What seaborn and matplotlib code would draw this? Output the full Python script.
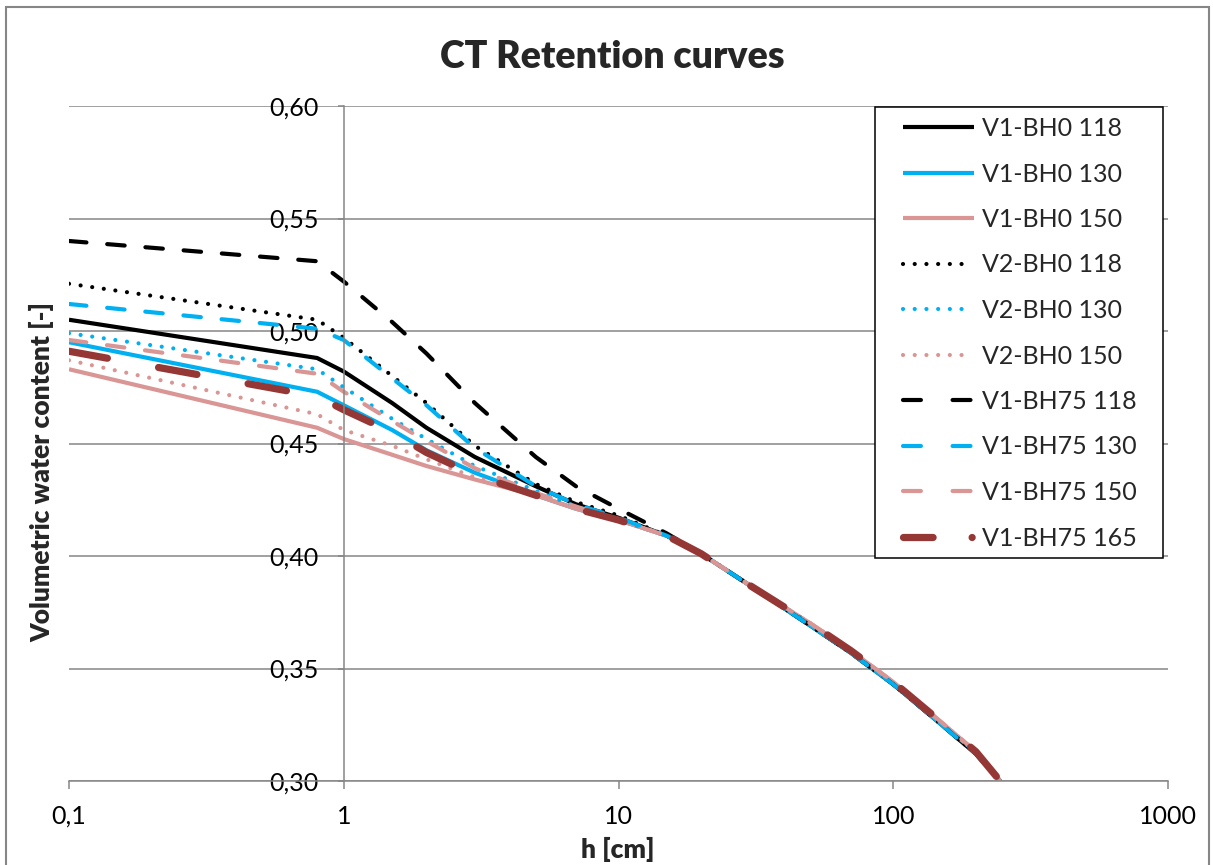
import numpy as np
import pandas as pd
import seaborn as sns
import matplotlib.pyplot as plt
from matplotlib.lines import Line2D
from matplotlib.patches import Rectangle
from matplotlib.ticker import FixedLocator, NullLocator

# suction head [cm] and water contents
h = [0.1, 0.8, 1, 1.5, 2, 3, 5, 7, 10, 15, 20, 30, 50, 70, 100, 150, 200, 245]

v1_bh0_118 = [0.505, 0.488, 0.482, 0.468, 0.457, 0.444, 0.431, 0.423, 0.417,
              0.409, 0.401, 0.387, 0.369, 0.357, 0.343, 0.325, 0.312, 0.300]
v1_bh0_130 = [0.495, 0.473, 0.467, 0.456, 0.447, 0.437, 0.427, 0.421, 0.416,
              0.409, 0.401, 0.387, 0.369, 0.357, 0.343, 0.325, 0.313, 0.300]
v1_bh0_150 = [0.483, 0.457, 0.452, 0.445, 0.440, 0.434, 0.427, 0.421, 0.416,
              0.409, 0.401, 0.387, 0.370, 0.358, 0.344, 0.326, 0.313, 0.300]
v2_bh0_118 = [0.521, 0.505, 0.497, 0.480, 0.468, 0.449, 0.432, 0.424, 0.418,
              0.409, 0.401, 0.387, 0.369, 0.357, 0.343, 0.325, 0.312, 0.300]
v2_bh0_130 = [0.499, 0.483, 0.475, 0.461, 0.452, 0.440, 0.429, 0.422, 0.416,
              0.409, 0.401, 0.387, 0.370, 0.357, 0.343, 0.325, 0.313, 0.300]
v2_bh0_150 = [0.487, 0.463, 0.456, 0.449, 0.443, 0.435, 0.427, 0.421, 0.416,
              0.409, 0.401, 0.387, 0.370, 0.358, 0.344, 0.326, 0.313, 0.300]
v1_bh75_118 = [0.540, 0.531, 0.522, 0.504, 0.490, 0.468, 0.444, 0.431, 0.421,
               0.410, 0.401, 0.387, 0.369, 0.357, 0.343, 0.325, 0.312, 0.300]
v1_bh75_130 = [0.512, 0.501, 0.496, 0.479, 0.467, 0.448, 0.431, 0.423, 0.417,
               0.409, 0.401, 0.387, 0.369, 0.357, 0.343, 0.325, 0.312, 0.300]
v1_bh75_150 = [0.496, 0.481, 0.473, 0.460, 0.451, 0.439, 0.428, 0.422, 0.416,
               0.409, 0.401, 0.387, 0.370, 0.358, 0.344, 0.326, 0.313, 0.300]
v1_bh75_165 = [0.491, 0.471, 0.465, 0.455, 0.446, 0.436, 0.427, 0.421, 0.416,
               0.409, 0.401, 0.387, 0.370, 0.358, 0.344, 0.326, 0.313, 0.300]

names = ["V1-BH0 118", "V1-BH0 130", "V1-BH0 150",
         "V2-BH0 118", "V2-BH0 130", "V2-BH0 150",
         "V1-BH75 118", "V1-BH75 130", "V1-BH75 150", "V1-BH75 165"]
series = [v1_bh0_118, v1_bh0_130, v1_bh0_150,
          v2_bh0_118, v2_bh0_130, v2_bh0_150,
          v1_bh75_118, v1_bh75_130, v1_bh75_150, v1_bh75_165]

yticks = [0.30, 0.35, 0.40, 0.45, 0.50, 0.55, 0.60]
ytick_labels = ["0,30", "0,35", "0,40", "0,45", "0,50", "0,55", "0,60"]
xticks = [0.1, 1, 10, 100, 1000]
xtick_labels = ["0,1", "1", "10", "100", "1000"]

black = "#000000"
blue = "#00B0F0"
pink = "#D99694"
brown = "#953735"
grey = "#868686"

solid = "-"
dotted = (0, (0.01, 2.8))
dashed = (0, (4.2, 5.0))
longdash = (0, (5.4, 7.2))

styles = [
    (black, 3.0, solid), (blue, 3.0, solid), (pink, 3.0, solid),
    (black, 3.0, dotted), (blue, 3.0, dotted), (pink, 3.0, dotted),
    (black, 3.0, dashed), (blue, 3.0, dashed), (pink, 3.0, dashed),
    (brown, 5.2, longdash),
]

# patterns used only in the legend key (fitted to the key length)
key_dots = (0, (0.01, 2.8, 0.01, 2.8, 0.01, 2.8, 0.01, 2.8, 0.01, 2.8, 0.01, 20))
key_dash = (0, (4.3, 7.6))
key_styles = [solid, solid, solid,
              key_dots, key_dots, key_dots,
              key_dash, key_dash, key_dash,
              (0, (4.1, 5.4, 0.01, 20))]

sns.set_theme(style="white")
plt.rcParams["font.family"] = ["Lato", "DejaVu Sans"]

fig = plt.figure(figsize=(12.13, 8.65), dpi=100)
ax = fig.add_axes([69 / 1213, 1 - 781 / 865, (1168 - 69) / 1213, (781 - 106) / 865])

for name, vals, (col, lw, ls) in zip(names, series, styles):
    df = pd.DataFrame({"h": h, "theta": vals})
    sns.lineplot(data=df, x="h", y="theta", ax=ax, color=col, linewidth=lw,
                 linestyle=ls, dash_capstyle="round", solid_capstyle="butt",
                 solid_joinstyle="round", estimator=None, sort=False)

ax.set_xscale("log")
ax.set_xlim(0.1, 1000)
ax.set_ylim(0.30, 0.60)

ax.xaxis.set_major_locator(FixedLocator(xticks))
ax.xaxis.set_minor_locator(NullLocator())
ax.set_xticklabels(xtick_labels)
ax.set_yticks(yticks)
ax.set_yticklabels(ytick_labels)

ax.grid(axis="y", color=grey, linewidth=1.1)
ax.grid(axis="x", visible=False)
ax.set_axisbelow(True)

for s in ["top", "right"]:
    ax.spines[s].set_visible(False)
ax.spines["left"].set_position(("data", 1))
ax.spines["left"].set_color(grey)
ax.spines["left"].set_linewidth(1.1)
ax.spines["bottom"].set_color(grey)
ax.spines["bottom"].set_linewidth(1.1)

ax.tick_params(axis="x", which="major", direction="out", length=6, width=1.1,
               color=grey, pad=11, labelsize=18, labelcolor="black", bottom=True)
ax.tick_params(axis="y", which="major", direction="out", length=4, width=1.1,
               color=grey, pad=14, labelsize=18, labelcolor="black", left=True)

ax.set_xlabel("")
ax.set_ylabel("")
fig.text(618 / 1213, 1 - 849 / 865, "h [cm]", ha="center", va="center",
         fontsize=19, fontweight="heavy")
fig.text(42 / 1213, 1 - 472 / 865, "Volumetric water content [-]", rotation=90,
         ha="center", va="center", fontsize=19, fontweight="heavy")

fig.suptitle("CT Retention curves", x=612 / 1213, y=1 - 68 / 865, va="baseline",
             fontsize=27, fontweight="heavy")

# legend: own white box, keys drawn with their own fitted patterns
ax.add_patch(Rectangle((875 / 1213, 1 - 558 / 865), (1163 - 875) / 1213, (558 - 107) / 865,
                       transform=fig.transFigure, facecolor="white", edgecolor="black",
                       linewidth=1.1, zorder=4.9, clip_on=False))
handles = []
for (col, lw, _), ks in zip(styles, key_styles):
    handles.append(Line2D([], [], color=col, linewidth=lw, linestyle=ks,
                          dash_capstyle="round", solid_capstyle="butt"))

leg = ax.legend(handles, names, loc="upper left",
                bbox_to_anchor=(903 / 1213, 1 - 117 / 865),
                bbox_transform=fig.transFigure, fontsize=18, frameon=False,
                borderaxespad=0, borderpad=0, handlelength=2.85,
                handletextpad=0.3, labelspacing=0.9)
leg.set_zorder(5)

fig.patches.append(Rectangle((6 / 1213, -0.01), (1209 - 6) / 1213, (865 - 7) / 865 + 0.01,
                             transform=fig.transFigure, fill=False,
                             edgecolor=grey, linewidth=1.5))

fig.savefig("out.png", dpi=100, facecolor="white")
